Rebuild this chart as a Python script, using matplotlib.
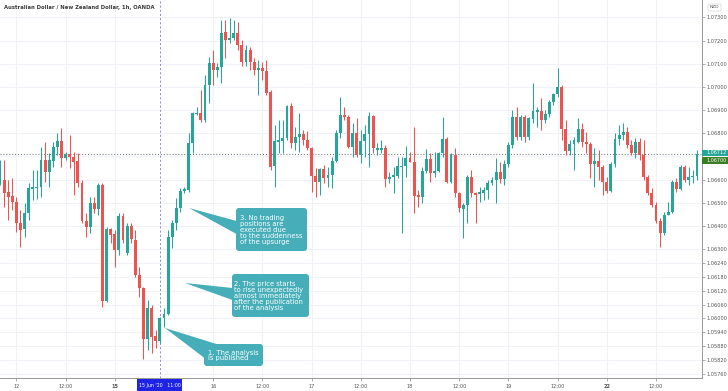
import numpy as np
import matplotlib
matplotlib.use("Agg")
import matplotlib.pyplot as plt
from matplotlib.patches import FancyBboxPatch, Polygon, Rectangle

# ---------------- data (hourly AUD/NZD candles) ----------------
opens = [1.06597,1.06597,1.06546,1.06528,1.06502,1.06412,1.06386,1.06455,1.06558,1.06563,
         1.06567,1.06684,1.06632,1.06680,1.06740,1.06766,1.06692,1.06710,1.06697,1.06680,
         1.06584,1.06420,1.06394,1.06498,1.06472,1.06576,1.06075,1.06386,1.06364,1.06295,
         1.06442,1.06282,1.06399,1.06338,1.06187,1.06131,1.05911,1.06044,1.05923,1.05902,
         1.06001,1.06018,1.06351,1.06412,1.06476,1.06550,1.06554,1.06757,1.06882,1.06887,
         1.06857,1.07008,1.07103,1.07073,1.07086,1.07237,1.07202,1.07211,1.07232,1.07181,
         1.07107,1.07159,1.07107,1.07073,1.07081,1.07068,1.06978,1.06658,1.06762,1.06766,
         1.06779,1.06917,1.06757,1.06783,1.06796,1.06770,1.06736,1.06615,1.06589,1.06645,
         1.06606,1.06619,1.06680,1.06800,1.06878,1.06870,1.06740,1.06800,1.06705,1.06766,
         1.06796,1.06874,1.06727,1.06727,1.06736,1.06602,1.06610,1.06615,1.06654,1.06658,
         1.06692,1.06675,1.06533,1.06524,1.06636,1.06688,1.06628,1.06636,1.06714,1.06774,
         1.06589,1.06705,1.06541,1.06472,1.06489,1.06610,1.06541,1.06537,1.06541,1.06554,
         1.06584,1.06597,1.06632,1.06602,1.06667,1.06749,1.06870,1.06783,1.06870,1.06783,
         1.06861,1.06891,1.06895,1.06857,1.06882,1.06934,1.06969,1.06999,1.06818,1.06723,
         1.06753,1.06762,1.06818,1.06762,1.06753,1.06667,1.06680,1.06654,1.06589,1.06550,
         1.06667,1.06774,1.06792,1.06805,1.06749,1.06714,1.06762,1.06705,1.06610,1.06541,
         1.06489,1.06420,1.06368,1.06446,1.06459,1.06589,1.06558,1.06654,1.06597,1.06610,
         1.06615]
highs = [1.06684,1.06684,1.06597,1.06606,1.06524,1.06468,1.06498,1.06584,1.06641,1.06641,
         1.06740,1.06762,1.06714,1.06762,1.06800,1.06822,1.06718,1.06792,1.06718,1.06714,
         1.06597,1.06455,1.06524,1.06524,1.06584,1.06584,1.06394,1.06390,1.06381,1.06455,
         1.06455,1.06412,1.06412,1.06381,1.06222,1.06135,1.06079,1.06057,1.05949,1.06006,
         1.06044,1.06381,1.06425,1.06520,1.06563,1.06567,1.06800,1.06891,1.06913,1.06986,
         1.07051,1.07129,1.07159,1.07103,1.07289,1.07289,1.07297,1.07289,1.07280,1.07202,
         1.07181,1.07172,1.07124,1.07116,1.07107,1.07116,1.06986,1.06835,1.06857,1.06857,
         1.06921,1.06930,1.06826,1.06887,1.06813,1.06809,1.06740,1.06649,1.06649,1.06662,
         1.06654,1.06697,1.06813,1.06956,1.06913,1.06878,1.06844,1.06865,1.06813,1.06835,
         1.06891,1.06878,1.06757,1.06770,1.06749,1.06632,1.06654,1.06697,1.06697,1.06744,
         1.06718,1.06826,1.06554,1.06654,1.06731,1.06714,1.06718,1.06718,1.06870,1.06783,
         1.06714,1.06736,1.06546,1.06498,1.06619,1.06641,1.06546,1.06567,1.06567,1.06597,
         1.06610,1.06692,1.06675,1.06684,1.06762,1.06900,1.06913,1.06878,1.06878,1.06870,
         1.07016,1.06913,1.06952,1.06900,1.06943,1.06973,1.07081,1.07008,1.06857,1.06770,
         1.06783,1.06865,1.06844,1.06805,1.06762,1.06736,1.06727,1.06662,1.06610,1.06675,
         1.06800,1.06835,1.06844,1.06826,1.06770,1.06779,1.06779,1.06770,1.06619,1.06563,
         1.06502,1.06433,1.06459,1.06502,1.06597,1.06606,1.06662,1.06662,1.06654,1.06641,
         1.06727]
lows = [1.06576,1.06481,1.06425,1.06468,1.06373,1.06308,1.06351,1.06425,1.06511,1.06515,
        1.06524,1.06589,1.06567,1.06654,1.06705,1.06654,1.06684,1.06649,1.06533,1.06567,
        1.06412,1.06351,1.06368,1.06455,1.06446,1.06049,1.06070,1.06325,1.06222,1.06273,
        1.06325,1.06273,1.06325,1.06178,1.06092,1.05824,1.05863,1.05850,1.05872,1.05893,
        1.05962,1.06014,1.06304,1.06381,1.06459,1.06541,1.06546,1.06714,1.06878,1.06848,
        1.06848,1.06930,1.07008,1.07042,1.07016,1.07124,1.07189,1.07202,1.07159,1.07090,
        1.07090,1.07073,1.07051,1.06965,1.07029,1.06965,1.06641,1.06567,1.06714,1.06714,
        1.06770,1.06736,1.06727,1.06718,1.06749,1.06727,1.06546,1.06524,1.06533,1.06584,
        1.06567,1.06563,1.06675,1.06779,1.06857,1.06736,1.06697,1.06697,1.06671,1.06697,
        1.06654,1.06714,1.06705,1.06714,1.06567,1.06584,1.06541,1.06606,1.06368,1.06610,
        1.06675,1.06455,1.06481,1.06498,1.06628,1.06589,1.06610,1.06632,1.06697,1.06584,
        1.06584,1.06524,1.06459,1.06347,1.06412,1.06524,1.06412,1.06502,1.06511,1.06515,
        1.06576,1.06498,1.06584,1.06576,1.06654,1.06736,1.06770,1.06770,1.06762,1.06770,
        1.06844,1.06826,1.06813,1.06844,1.06870,1.06921,1.06956,1.06770,1.06705,1.06705,
        1.06641,1.06757,1.06740,1.06714,1.06606,1.06567,1.06597,1.06533,1.06541,1.06546,
        1.06654,1.06749,1.06770,1.06736,1.06705,1.06692,1.06684,1.06597,1.06533,1.06481,
        1.06412,1.06308,1.06360,1.06446,1.06455,1.06546,1.06554,1.06589,1.06576,1.06584,
        1.06597]
closes = [1.06649,1.06541,1.06524,1.06502,1.06412,1.06381,1.06455,1.06563,1.06567,1.06567,
          1.06684,1.06632,1.06684,1.06740,1.06766,1.06692,1.06710,1.06697,1.06675,1.06584,
          1.06420,1.06394,1.06498,1.06472,1.06576,1.06075,1.06386,1.06360,1.06295,1.06442,
          1.06338,1.06399,1.06342,1.06187,1.06131,1.05911,1.06044,1.05919,1.05902,1.06001,
          1.06018,1.06351,1.06412,1.06476,1.06550,1.06558,1.06757,1.06887,1.06887,1.06857,
          1.07008,1.07103,1.07073,1.07086,1.07232,1.07202,1.07211,1.07232,1.07181,1.07107,
          1.07159,1.07107,1.07073,1.07081,1.07068,1.06973,1.06654,1.06766,1.06770,1.06779,
          1.06917,1.06757,1.06783,1.06796,1.06770,1.06736,1.06615,1.06589,1.06645,1.06606,
          1.06619,1.06680,1.06800,1.06878,1.06870,1.06740,1.06800,1.06705,1.06766,1.06796,
          1.06874,1.06736,1.06736,1.06736,1.06602,1.06610,1.06619,1.06658,1.06658,1.06692,
          1.06675,1.06528,1.06524,1.06636,1.06688,1.06628,1.06636,1.06714,1.06774,1.06589,
          1.06705,1.06541,1.06476,1.06489,1.06610,1.06541,1.06533,1.06546,1.06554,1.06584,
          1.06597,1.06632,1.06602,1.06667,1.06749,1.06870,1.06783,1.06870,1.06783,1.06865,
          1.06895,1.06900,1.06857,1.06882,1.06934,1.06969,1.06999,1.06818,1.06723,1.06753,
          1.06770,1.06818,1.06762,1.06753,1.06667,1.06680,1.06654,1.06589,1.06550,1.06667,
          1.06774,1.06792,1.06805,1.06749,1.06714,1.06762,1.06705,1.06610,1.06541,1.06489,
          1.06420,1.06368,1.06446,1.06459,1.06589,1.06558,1.06654,1.06597,1.06610,1.06615,
          1.06712]

# time axis labels (bar index -> label)
xtick_pos = [4, 16, 28, 52, 64, 76, 88, 100, 112, 124, 136, 148, 160]
xtick_labels = ["12", "12:00", "15", "16", "12:00", "17", "12:00", "18", "12:00",
                "19", "12:00", "22", "12:00"]
bold_labels = {"15", "22"}
pub_index = 39
pub_label = "15 Jun '20   11:00"

ytick_vals = [1.073, 1.072, 1.071, 1.070, 1.069, 1.068, 1.066, 1.065, 1.064, 1.063,
              1.0624, 1.0618, 1.0612, 1.0606, 1.0600, 1.0594, 1.0588, 1.0582, 1.0576]
ytick_labels = ["1.07300", "1.07200", "1.07100", "1.07000", "1.06900", "1.06800",
                "1.06600", "1.06500", "1.06400", "1.06300", "1.06240", "1.06180",
                "1.06120", "1.06060", "1.06000", "1.05940", "1.05880", "1.05820", "1.05760"]
last_price = 1.06712
level_price = 1.06700

title = "Australian Dollar / New Zealand Dollar, 1h, OANDA"
notes = ["1. The analysis\nis published",
         "2. The price starts\nto rise unexpectedly\nalmost immediately\nafter the publication\nof the analysis",
         "3. No trading\npositions are\nexecuted due\nto the suddenness\nof the upsurge"]

# ---------------- figure ----------------
W, H = 728, 391
UP, DOWN = "#26a69a", "#ef5350"
fig = plt.figure(figsize=(W / 100, H / 100), dpi=100)
ax = fig.add_axes([0, 13 / H, 702 / W, 378 / H])

o = np.array(opens); hi = np.array(highs); lo = np.array(lows); c = np.array(closes)
idx = np.arange(len(o))
cols = np.where(c >= o, UP, DOWN)

ax.vlines(idx, lo, hi, colors=cols, lw=0.75, zorder=3)
body_bottom = np.minimum(o, c)
body_h = np.maximum(np.abs(c - o), 0.00004)
ax.bar(idx, body_h, 0.72, body_bottom, color=cols, linewidth=0, zorder=4)

ax.set_xlim(0, 702 / 4.1)
ax.set_ylim(1.05743, 1.07375)

# grid
for y in ytick_vals + [1.067]:
    ax.axhline(y, color="#f0f2f8", lw=0.8, zorder=0)
for x in xtick_pos:
    ax.axvline(x, color="#f0f2f8", lw=0.8, zorder=0)

# ticks
ax.yaxis.tick_right()
ax.set_yticks(ytick_vals)
ax.set_yticklabels(ytick_labels, fontsize=3.6, color="#555555")
ax.tick_params(axis="y", length=2, width=0.5, color="#888888", pad=1.5)
ax.set_xticks(xtick_pos)
ax.set_xticklabels(xtick_labels, fontsize=3.6, color="#555555")
for t in ax.get_xticklabels():
    if t.get_text() in bold_labels:
        t.set_fontweight("bold")
ax.tick_params(axis="x", length=2, width=0.5, color="#888888", pad=2.5)

for s in ["top", "left"]:
    ax.spines[s].set_visible(False)
ax.spines["right"].set_color("#999999")
ax.spines["bottom"].set_color("#999999")
ax.spines["right"].set_linewidth(0.7)
ax.spines["bottom"].set_linewidth(0.7)

# current price dotted line and publication line
ax.axhline(last_price, color="#5f6b6b", lw=0.7, ls=(0, (1, 2)), zorder=2)
ax.axvline(pub_index, color="#7b7bd8", lw=0.6, ls=(0, (2.5, 2.5)), zorder=2)

# overlay in pixel coordinates
ov = fig.add_axes([0, 0, 1, 1], facecolor="none")
ov.set_xlim(0, W); ov.set_ylim(H, 0); ov.axis("off")

ov.text(4, 7.5, title, fontsize=3.8, color="#3a3a3a", fontweight="bold", va="center", ha="left")

# publication time label on the x axis
ov.add_patch(Rectangle((137, 379), 45, 12, color="#1f23e6", lw=0, zorder=5))
ov.text(159.5, 385, pub_label, fontsize=3.4, color="white", ha="center", va="center", zorder=6)

# right axis labels
ov.add_patch(FancyBboxPatch((708, 4), 13, 7, boxstyle="round,pad=0,rounding_size=1",
                            fc="white", ec="#d6d6d6", lw=0.5))
ov.text(714.5, 7.5, "NZD", fontsize=3.2, color="#555555", ha="center", va="center")
ov.add_patch(Rectangle((702, 149.5), 26, 6.5, color="#26a69a", lw=0, zorder=5))
ov.text(706, 152.8, f"{last_price:.5f}", fontsize=3.5, color="white", va="center", zorder=6)
ov.add_patch(Rectangle((702, 157), 26, 6.5, color="#3b7d24", lw=0, zorder=5))
ov.text(706, 160.3, f"{level_price:.5f}", fontsize=3.5, color="white", va="center", zorder=6)

# call-out boxes
BOX = "#45aeb8"
boxes = [
    dict(rect=(204, 344, 59, 22), tip=(165, 328), base=[(218, 344.5), (204.5, 358)], tx=208),
    dict(rect=(232, 274, 77, 43), tip=(185, 283), base=[(232.5, 288), (232.5, 300)], tx=234),
    dict(rect=(236, 208, 71, 43), tip=(189, 208), base=[(236.5, 221), (236.5, 234)], tx=240),
]
for b, txt in zip(boxes, notes):
    x0, y0, w, h = b["rect"]
    ov.add_patch(Polygon([b["tip"]] + b["base"], closed=True, fc=BOX, ec="none", zorder=7))
    ov.add_patch(FancyBboxPatch((x0, y0), w, h, boxstyle="round,pad=0,rounding_size=3",
                                fc=BOX, ec="none", zorder=7))
    ov.text(b["tx"], y0 + h / 2 + 0.5, txt, fontsize=4.9, color="white", ha="left",
            va="center", linespacing=0.98, zorder=8)

fig.savefig("out.png", dpi=100)
